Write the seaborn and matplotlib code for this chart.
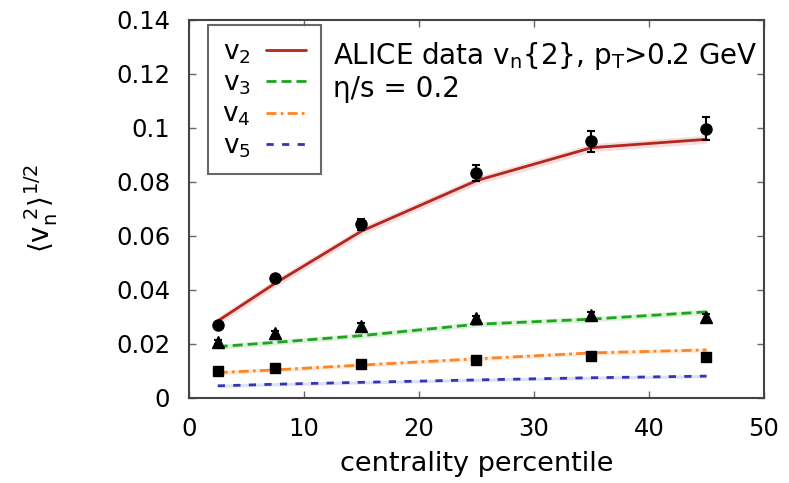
import numpy as np
import pandas as pd
import matplotlib
matplotlib.use("Agg")
import matplotlib.pyplot as plt
import seaborn as sns
from matplotlib.lines import Line2D
from matplotlib.ticker import FuncFormatter

# ---- data ----
centrality = [2.5, 7.5, 15, 25, 35, 45]

# ALICE data v_n{2}
data_v2 = [0.0269, 0.0443, 0.0643, 0.0834, 0.0950, 0.0998]
err_v2 = [0.0010, 0.0012, 0.0020, 0.0030, 0.0040, 0.0043]
data_v3 = [0.0208, 0.0239, 0.0267, 0.0295, 0.0308, 0.0299]
err_v3 = [0.0008, 0.0008, 0.0010, 0.0010, 0.0012, 0.0012]
data_v4 = [0.0099, 0.0111, 0.0126, 0.0141, 0.0156, 0.0152]
err_v4 = [0.0006, 0.0006, 0.0007, 0.0008, 0.0009, 0.0009]

# theory, eta/s = 0.2
theo_v2 = [0.0285, 0.0425, 0.0618, 0.0805, 0.0927, 0.0958]
theo_v3 = [0.0190, 0.0206, 0.0231, 0.0273, 0.0292, 0.0319]
theo_v4 = [0.0094, 0.0104, 0.0122, 0.0145, 0.0167, 0.0178]
theo_v5 = [0.0045, 0.0051, 0.0058, 0.0067, 0.0075, 0.0081]
band_halfwidth = [0.0015, 0.0010, 0.0008, 0.0006]

harmonics = ["v2", "v3", "v4", "v5"]
legend_labels = [r"v$_2$", r"v$_3$", r"v$_4$", r"v$_5$"]
colors = ["#b5261e", "#1ea51e", "#ff8426", "#3434b8"]
dash_seqs = ["", (3.6, 1.8), (3.6, 1.5, 1.0, 1.5), (2.6, 3.0)]

xticks = [0, 10, 20, 30, 40, 50]
yticks = [0, 0.02, 0.04, 0.06, 0.08, 0.10, 0.12, 0.14]

theory = pd.DataFrame({
    "centrality": centrality * 4,
    "value": theo_v2 + theo_v3 + theo_v4 + theo_v5,
    "harmonic": sum([[h] * len(centrality) for h in harmonics], []),
})

# ---- style ----
sns.set_style("ticks")
plt.rcParams["font.family"] = ["DejaVu Sans"]
plt.rcParams["mathtext.fontset"] = "dejavusans"
plt.rcParams["mathtext.default"] = "regular"
plt.rcParams["font.size"] = 17
plt.rcParams["text.color"] = "black"
plt.rcParams["axes.labelcolor"] = "black"

fig = plt.figure(figsize=(7.89, 4.83), dpi=100)
ax = fig.add_axes([0.2395, 0.176, 0.7288, 0.7826])

# bands
theo_arrays = [theo_v2, theo_v3, theo_v4, theo_v5]
for vals, hw, c in zip(theo_arrays, band_halfwidth, colors):
    v = np.array(vals)
    ax.fill_between(centrality, v - hw, v + hw, color=c, alpha=0.15, lw=0)

sns.lineplot(data=theory, x="centrality", y="value", hue="harmonic",
             style="harmonic", hue_order=harmonics, style_order=harmonics,
             palette=dict(zip(harmonics, colors)),
             dashes=dict(zip(harmonics, dash_seqs)),
             linewidth=2.0, legend=False, ax=ax)

# data points
for vals, errs, mk, ms in [(data_v2, err_v2, "o", 8), (data_v3, err_v3, "^", 8), (data_v4, err_v4, "s", 7.5)]:
    ax.errorbar(centrality, vals, yerr=errs, fmt=mk, color="black",
                markersize=ms, capsize=3, elinewidth=1.5, capthick=1.5, zorder=5)

ax.set_xlim(0, 50)
ax.set_ylim(0, 0.14)
ax.set_xticks(xticks)
ax.set_yticks(yticks)
ax.yaxis.set_major_formatter(FuncFormatter(lambda v, p: "%g" % round(v, 3)))
ax.tick_params(axis="both", direction="in", top=True, right=True, length=5, width=1,
               color="#666666", labelcolor="black", labelsize=17.5)
ax.tick_params(axis="y", pad=13.5)
ax.tick_params(axis="x", pad=14)
for s in ax.spines.values():
    s.set_color("#444444")
    s.set_linewidth(1.5)

ax.set_xlabel("centrality percentile", fontsize=19.5, labelpad=7)
ax.set_ylabel(r"$\langle v_n^{\ 2}\rangle^{1/2}$", fontsize=20)
ax.yaxis.set_label_coords(-0.224, 0.5)

handles = []
for c, d in zip(colors, dash_seqs):
    ls = "-" if d == "" else (0, d)
    handles.append(Line2D([], [], color=c, ls=ls, lw=2.0))
leg = ax.legend(handles, legend_labels, loc="upper left", markerfirst=False,
                bbox_to_anchor=(0.033, 0.987), fancybox=False, frameon=True,
                fontsize=19, handlelength=1.55, handletextpad=0.55,
                labelspacing=0.18, borderpad=0.55, borderaxespad=0)
leg.get_frame().set_edgecolor("#444444")
leg.get_frame().set_linewidth(1.5)

ax.text(0.2504, 0.905, r"ALICE data v$_n${2}, p$_T$>0.2 GeV", transform=ax.transAxes,
        fontsize=20, va="center", ha="left")
ax.text(0.2504, 0.817, r"η/s = 0.2", transform=ax.transAxes,
        fontsize=20, va="center", ha="left")

fig.savefig("out.png", dpi=100)
